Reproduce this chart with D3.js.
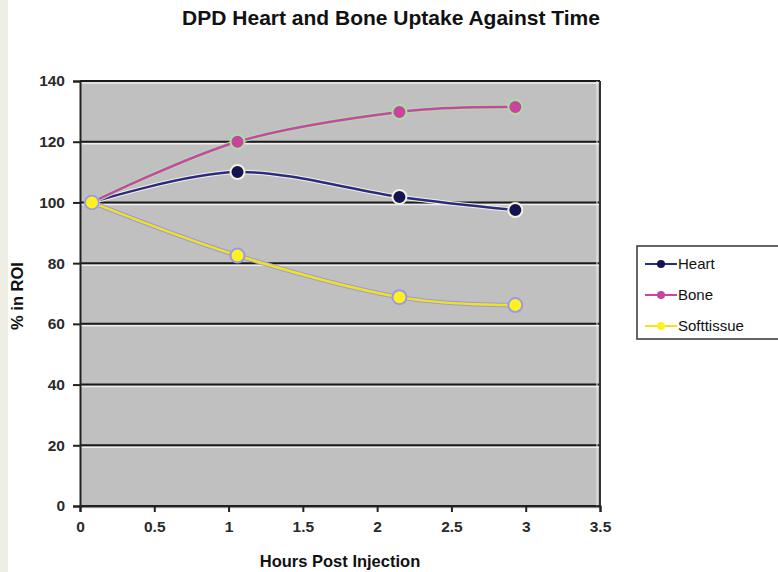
<!DOCTYPE html>
<html lang="en">
<head>
    <meta charset="UTF-8">
    <title>DPD Heart and Bone Uptake Against Time</title>
    <script src="https://d3js.org/d3.v7.min.js"></script>
    <style>
        body, html { margin: 0; background: #ffffff; }
        svg { display: block; font-family: 'Liberation Sans', Arial, sans-serif; }
        .title { font-size: 21px; font-weight: bold; text-anchor: middle; fill: #111; }
        .axis-title { font-size: 16.5px; font-weight: bold; fill: #111; }
        .legend-text { font-size: 15px; fill: #111; }
    </style>
</head>
<body>
<svg width="778" height="572"></svg>
<script>
    // data
    const hours = [0.08, 1.06, 2.15, 2.93];
    const heart = [100, 110, 101.8, 97.5];
    const bone = [100, 120, 129.8, 131.4];
    const softtissue = [100, 82.5, 68.8, 66.2];
    const xTicks = [0, 0.5, 1, 1.5, 2, 2.5, 3, 3.5];
    const yTicks = [0, 20, 40, 60, 80, 100, 120, 140];

    const series = [
        {name: "Heart", values: heart, line: "#2b2b85", dot: "#141450", halo: "#f4f2e0"},
        {name: "Bone", values: bone, line: "#cc44a8", dot: "#c8449e", halo: "#a8e0a0"},
        {name: "Softtissue", values: softtissue, line: "#f2e21a", dot: "#fff020", halo: "#9a9ae6"}
    ];

    const svg = d3.select("svg");
    const plotL = 80, plotR = 600, plotT = 81, plotB = 506;

    const x = d3.scaleLinear().domain([0, 3.5]).range([plotL, plotR]);
    const y = d3.scaleLinear().domain([0, 140]).range([plotB, plotT]);

    // left strip
    svg.append("rect").attr("x", 0).attr("y", 0).attr("width", 8).attr("height", 572).attr("fill", "#eeeee4");

    svg.append("text").attr("class", "title").attr("x", 391).attr("y", 25)
        .text("DPD Heart and Bone Uptake Against Time");

    // plot area
    svg.append("rect").attr("x", plotL).attr("y", plotT).attr("width", plotR - plotL).attr("height", plotB - plotT)
        .attr("fill", "#c0c0c0");

    // gridlines: dark line with light line below
    const grid = svg.append("g");
    yTicks.forEach(v => {
        grid.append("line").attr("x1", plotL).attr("x2", plotR).attr("y1", y(v) + 2).attr("y2", y(v) + 2)
            .attr("stroke", "#eeeeee").attr("stroke-width", 1.5);
        grid.append("line").attr("x1", plotL).attr("x2", plotR).attr("y1", y(v)).attr("y2", y(v))
            .attr("stroke", "#1a1a1a").attr("stroke-width", 2);
    });
    svg.append("line").attr("x1", plotR).attr("x2", plotR).attr("y1", plotT).attr("y2", plotB)
        .attr("stroke", "#333").attr("stroke-width", 2);
    svg.append("line").attr("x1", plotR - 3).attr("x2", plotR - 3).attr("y1", plotT).attr("y2", plotB)
        .attr("stroke", "#eeeeee").attr("stroke-width", 1);

    function styleAxis(g) {
        g.attr("font-size", null).attr("font-family", null);
        g.select(".domain").attr("stroke", "#222").attr("stroke-width", 2);
        g.selectAll(".tick line").attr("stroke", "#222").attr("stroke-width", 2);
        g.selectAll(".tick text").style("font-size", "15.5px").style("font-weight", "bold").attr("fill", "#2a2a2a");
    }

    // y axis
    svg.append("g").attr("transform", `translate(${plotL},0)`)
        .call(d3.axisLeft(y).tickValues(yTicks).tickSize(7).tickPadding(8).tickFormat(d3.format("d")))
        .call(styleAxis);

    // x axis
    svg.append("g").attr("transform", `translate(0,${plotB})`)
        .call(d3.axisBottom(x).tickValues(xTicks).tickSize(6).tickPadding(9).tickFormat(d => d))
        .call(styleAxis);

    svg.append("text").attr("class", "axis-title").attr("text-anchor", "middle")
        .attr("x", 340).attr("y", 567).text("Hours Post Injection");
    svg.append("text").attr("class", "axis-title").attr("text-anchor", "middle")
        .attr("transform", "translate(23,296) rotate(-90)").text("% in ROI");

    // lines
    const line = d3.line().curve(d3.curveCatmullRom.alpha(0))
        .x((d, i) => x(hours[i])).y(d => y(d));

    series.forEach(s => {
        svg.append("path").attr("d", line(s.values)).attr("fill", "none")
            .attr("stroke", s.halo).attr("stroke-width", 4.5);
        svg.append("path").attr("d", line(s.values)).attr("fill", "none")
            .attr("stroke", s.line).attr("stroke-width", 2.5);
    });
    series.forEach(s => {
        svg.selectAll(null).data(s.values).enter().append("circle")
            .attr("cx", (d, i) => x(hours[i])).attr("cy", d => y(d)).attr("r", 7)
            .attr("fill", s.dot).attr("stroke", s.halo).attr("stroke-width", 2);
    });

    // legend
    const lg = svg.append("g").attr("transform", "translate(637,246)");
    lg.append("rect").attr("width", 150).attr("height", 93).attr("fill", "#fff")
        .attr("stroke", "#333").attr("stroke-width", 1.5);
    series.forEach((s, i) => {
        const yy = 18 + i * 31;
        lg.append("line").attr("x1", 8).attr("x2", 40).attr("y1", yy).attr("y2", yy)
            .attr("stroke", s.line).attr("stroke-width", 2);
        lg.append("circle").attr("cx", 24).attr("cy", yy).attr("r", 4).attr("fill", s.dot);
        lg.append("text").attr("class", "legend-text").attr("x", 41).attr("y", yy + 5).text(s.name);
    });
</script>
</body>
</html>
